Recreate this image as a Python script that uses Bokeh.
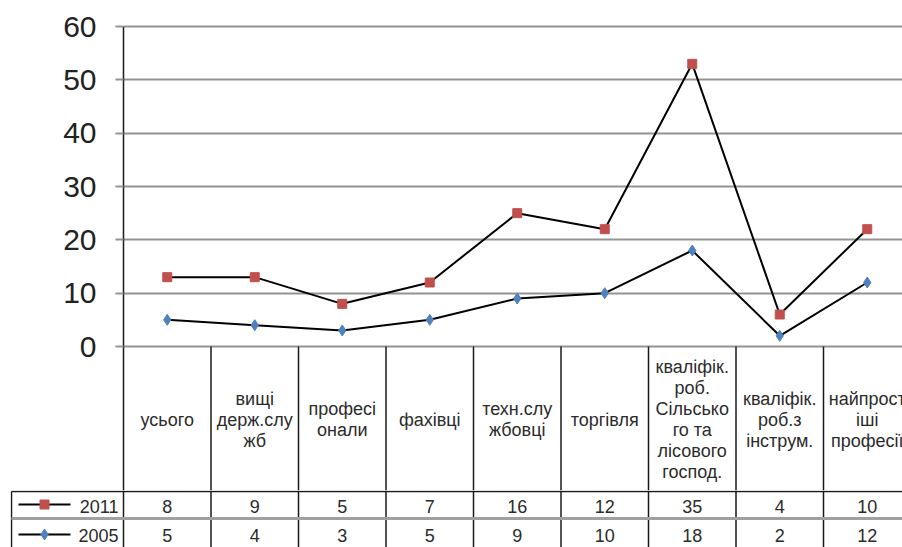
from bokeh.plotting import figure
from bokeh.models import Range1d, FixedTicker
from bokeh.core.properties import value
from bokeh.embed import file_html
from bokeh.resources import INLINE

# Occupational groups (column headers of the data table)
categories = [
    "усього",
    "вищі\nдерж.слу\nжб",
    "професі\nонали",
    "фахівці",
    "техн.слу\nжбовці",
    "торгівля",
    "кваліфік.\nроб.\nСільсько\nго та\nлісового\nгоспод.",
    "кваліфік.\nроб.з\nінструм.",
    "найпрост\nіші\nпрофесії",
]
series_2011 = [8, 9, 5, 7, 16, 12, 35, 4, 10]
series_2005 = [5, 4, 3, 5, 9, 10, 18, 2, 12]
y_ticks = [0, 10, 20, 30, 40, 50, 60]

FONT = "Liberation Sans"
RED = "#C0504D"
BLUE = "#4F81BD"
GRID = "#939393"
TEXT = "#2b2b2b"
EDGE = "#1a1a1a"

W = 902
LEFT = 123          # x of the value axis
COL = 87.5          # width of one category column
TOP_H = 490         # chart plus the header row of the table
BOT_H = 547 - TOP_H

idx = list(range(len(categories)))
x_end = (W - LEFT) / COL - 0.5
bounds = [i - 0.5 for i in range(len(categories) + 1)]

# stacked line chart: 2005 at the bottom, 2011 stacked on top of it
stack_2005 = series_2005
stack_2011 = [a + b for a, b in zip(series_2005, series_2011)]

ppu = 320 / 60.0    # pixels per value unit (60 at y=26, 0 at y=346)


def py_to_val(py):
    return (346 - py) / ppu


y_lo = py_to_val(TOP_H)
p = figure(width=W, height=TOP_H, output_backend="svg", toolbar_location=None,
           x_range=Range1d(-0.5, x_end), y_range=Range1d(y_lo, py_to_val(0)),
           x_axis_location=None, min_border_left=LEFT, min_border_right=0,
           min_border_top=0, min_border_bottom=0)
p.outline_line_color = None
p.xgrid.visible = False

ticker = FixedTicker(ticks=y_ticks)
ax = p.yaxis[0]
ax.ticker = ticker
ax.bounds = (y_lo, 60)
ax.axis_line_color = EDGE
ax.axis_line_width = 1.5
ax.major_tick_out = 8
ax.major_tick_in = 0
ax.major_tick_line_color = GRID
ax.major_tick_line_width = 2
ax.minor_tick_line_color = None
ax.major_label_standoff = 19
ax.major_label_text_font = FONT
ax.major_label_text_font_size = "30px"
ax.major_label_text_color = "#222222"

p.ygrid.ticker = ticker
p.ygrid.grid_line_color = GRID
p.ygrid.grid_line_width = 2

# header cells of the table under the value axis
p.segment(x0=bounds[1:], y0=[0] * (len(bounds) - 1), x1=bounds[1:],
          y1=[y_lo] * (len(bounds) - 1), line_color=EDGE, line_width=1.5)
p.text(x=idx, y=[py_to_val(419)] * len(idx), text=categories, text_align="center",
       text_baseline="middle", text_font=value(FONT), text_font_size="18px",
       text_color=TEXT, text_line_height=1.05)

p.line(idx, stack_2011, line_color="black", line_width=2)
p.line(idx, stack_2005, line_color="black", line_width=2)
p.scatter(idx, stack_2011, marker="square", size=9, fill_color=RED, line_color=RED)
p.scatter(idx, stack_2005, marker="diamond", size=11, fill_color=BLUE, line_color=BLUE)

# ---- value rows of the table ----
def px_x(px):
    return (px - LEFT) / COL - 0.5


def row_y(py):
    return py - TOP_H


t = figure(width=W, height=BOT_H, output_backend="svg", toolbar_location=None,
           x_range=Range1d(px_x(10), x_end), y_range=Range1d(BOT_H, 0),
           x_axis_location=None, y_axis_location=None,
           min_border_left=10, min_border_right=0, min_border_top=0, min_border_bottom=0)
t.outline_line_color = None
t.grid.visible = False

HDR = row_y(491)      # bottom border of the header cells
ROW = row_y(518)      # border between the two value rows
leg_left = px_x(11)

t.segment(x0=bounds, y0=[0] * len(bounds), x1=bounds, y1=[BOT_H] * len(bounds),
          line_color=EDGE, line_width=1.5)
t.segment(x0=[leg_left], y0=[HDR], x1=[leg_left], y1=[BOT_H], line_color=EDGE, line_width=1.5)
t.segment(x0=[leg_left], y0=[HDR], x1=[x_end], y1=[HDR], line_color=EDGE, line_width=1.5)
t.segment(x0=[leg_left], y0=[ROW], x1=[x_end], y1=[ROW], line_color="#a0a0a0", line_width=3)

t.text(x=idx, y=[row_y(506)] * len(idx), text=[str(v) for v in series_2011], text_align="center",
       text_baseline="middle", text_font=value(FONT), text_font_size="18px", text_color=TEXT)
t.text(x=idx, y=[row_y(535)] * len(idx), text=[str(v) for v in series_2005], text_align="center",
       text_baseline="middle", text_font=value(FONT), text_font_size="18px", text_color=TEXT)

# legend keys inside the table's first column
t.segment(x0=[px_x(18)] * 2, y0=[row_y(504), row_y(534)], x1=[px_x(70)] * 2,
          y1=[row_y(504), row_y(534)], line_color="black", line_width=2)
t.scatter([px_x(44)], [row_y(504)], marker="square", size=9, fill_color=RED, line_color=RED)
t.scatter([px_x(44)], [row_y(534)], marker="diamond", size=11, fill_color=BLUE, line_color=BLUE)
t.text(x=[px_x(118)] * 2, y=[row_y(506), row_y(535)], text=["2011", "2005"], text_align="right",
       text_baseline="middle", text_font=value(FONT), text_font_size="18px", text_color=TEXT)

# two independent roots so the value rows keep their own left border
open("out.html", "w").write(file_html([p, t], INLINE))
